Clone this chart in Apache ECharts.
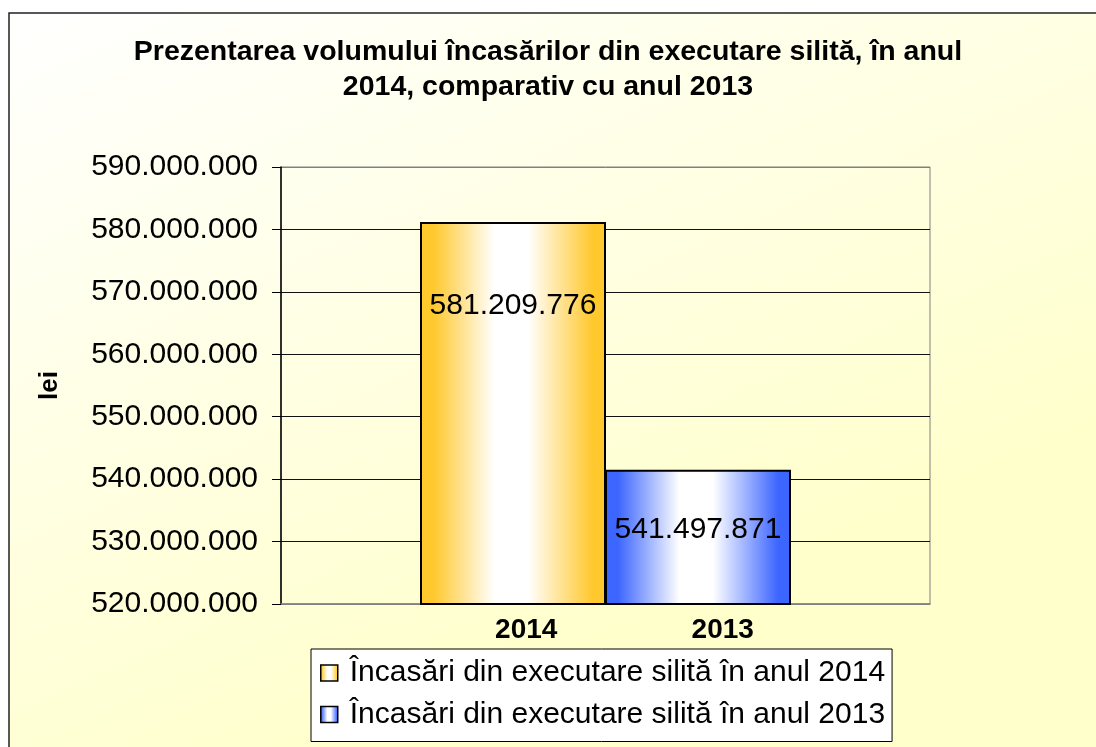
<!DOCTYPE html>
<html>
<head>
<meta charset="utf-8">
<script src="https://cdn.jsdelivr.net/npm/echarts@6/dist/echarts.min.js"></script>
<style>
html, body { margin: 0; padding: 0; background: #fff; }
#chart { width: 1096px; height: 747px; }
</style>
</head>
<body>
<div id="chart"></div>
<script>
// date
var categories = ['2014', '2013'];
var seriesNames = ['Încasări din executare silită în anul 2014', 'Încasări din executare silită în anul 2013'];
var values2014 = [581209776, '-'];
var values2013 = ['-', 541497871];
var yMin = 520000000, yMax = 590000000, yStep = 10000000;

function fmt(v) {
	return String(Math.round(v)).replace(/\B(?=(\d{3})+(?!\d))/g, '.');
}

function barGrad(c) {
	return new echarts.graphic.LinearGradient(0, 0, 1, 0, [
		{offset: 0, color: c},
		{offset: 0.07, color: c},
		{offset: 0.4, color: '#ffffff'},
		{offset: 0.58, color: '#ffffff'},
		{offset: 0.93, color: c},
		{offset: 1, color: c}
	]);
}

var orange = '#ffc82c', blue = '#3d66ff';
var font = 'Liberation Sans, Arial';

var chart = echarts.init(document.getElementById('chart'));
var option = {
	backgroundColor: '#ffffff',
	animation: false,
	graphic: [{
		type: 'rect',
		z: -10,
		silent: true,
		shape: {x: 9, y: 13, width: 1100, height: 750},
		style: {
			fill: new echarts.graphic.LinearGradient(0, 0, 0.3, 1, [
				{offset: 0, color: '#ffffff'},
				{offset: 1, color: '#ffffcc'}
			]),
			stroke: '#222', lineWidth: 1.5
		}
	}],
	title: {
		text: 'Prezentarea volumului încasărilor din executare silită, în anul\n2014, comparativ cu anul 2013',
		left: 'center',
		top: 30,
		textStyle: {
			fontFamily: font,
			fontWeight: 'bold',
			fontSize: 28.5,
			lineHeight: 35,
			color: '#000'
		}
	},
	legend: {
		orient: 'vertical',
		left: 311,
		top: 649,
		padding: [7, 7, 10, 9],
		itemGap: 7.5,
		itemWidth: 17,
		itemHeight: 16,
		icon: 'rect',
		backgroundColor: '#ffffff',
		borderColor: '#000',
		borderWidth: 1,
		itemStyle: {borderWidth: 1.5, borderColor: '#000'},
		textStyle: {fontFamily: font, fontSize: 30, lineHeight: 34, color: '#000', padding: [0, 0, 0, 7]},
		data: seriesNames
	},
	grid: {
		left: 281, top: 167, right: 166, bottom: 143,
		show: true,
		borderColor: '#808080',
		borderWidth: 1,
		backgroundColor: 'transparent'
	},
	xAxis: {
		type: 'category',
		data: [
			{value: categories[0], textStyle: {padding: [0, 0, 0, 166]}},
			{value: categories[1], textStyle: {padding: [0, 90, 0, 0]}}
		],
		axisLine: {lineStyle: {color: '#808080', width: 1.5}},
		axisTick: {show: false},
		axisLabel: {
			margin: 12,
			fontFamily: font,
			fontWeight: 'bold',
			fontSize: 28,
			color: '#000'
		}
	},
	yAxis: {
		type: 'value',
		min: yMin, max: yMax, interval: yStep,
		name: 'lei',
		nameLocation: 'middle',
		nameGap: 218,
		nameTextStyle: {fontFamily: font, fontWeight: 'bold', fontSize: 26, color: '#000'},
		axisLine: {show: true, lineStyle: {color: '#000', width: 1.5}},
		axisTick: {show: true, inside: false, length: 9, lineStyle: {color: '#000'}},
		axisLabel: {
			margin: 23,
			fontFamily: font,
			fontSize: 30,
			color: '#000',
			formatter: fmt
		},
		splitLine: {show: true, lineStyle: {color: ['#808080', '#111', '#111', '#111', '#111', '#111', '#111', '#808080'], width: 1}}
	},
	series: [{
		name: seriesNames[0],
		type: 'bar',
		barWidth: 186,
		barGap: '-175%',
		itemStyle: {color: barGrad(orange), borderColor: '#000', borderWidth: 2},
		label: {
			show: true,
			position: ['50%', '22%'],
			align: 'center',
			verticalAlign: 'middle',
			fontFamily: font,
			fontSize: 30,
			color: '#000',
			formatter: function(p) { return fmt(p.value); }
		},
		data: values2014
	}, {
		name: seriesNames[1],
		type: 'bar',
		barWidth: 186,
		itemStyle: {color: barGrad(blue), borderColor: '#000', borderWidth: 2},
		label: {
			show: true,
			position: ['50%', '44%'],
			align: 'center',
			verticalAlign: 'middle',
			fontFamily: font,
			fontSize: 30,
			color: '#000',
			formatter: function(p) { return fmt(p.value); }
		},
		data: values2013
	}]
};
chart.setOption(option);
</script>
</body>
</html>
